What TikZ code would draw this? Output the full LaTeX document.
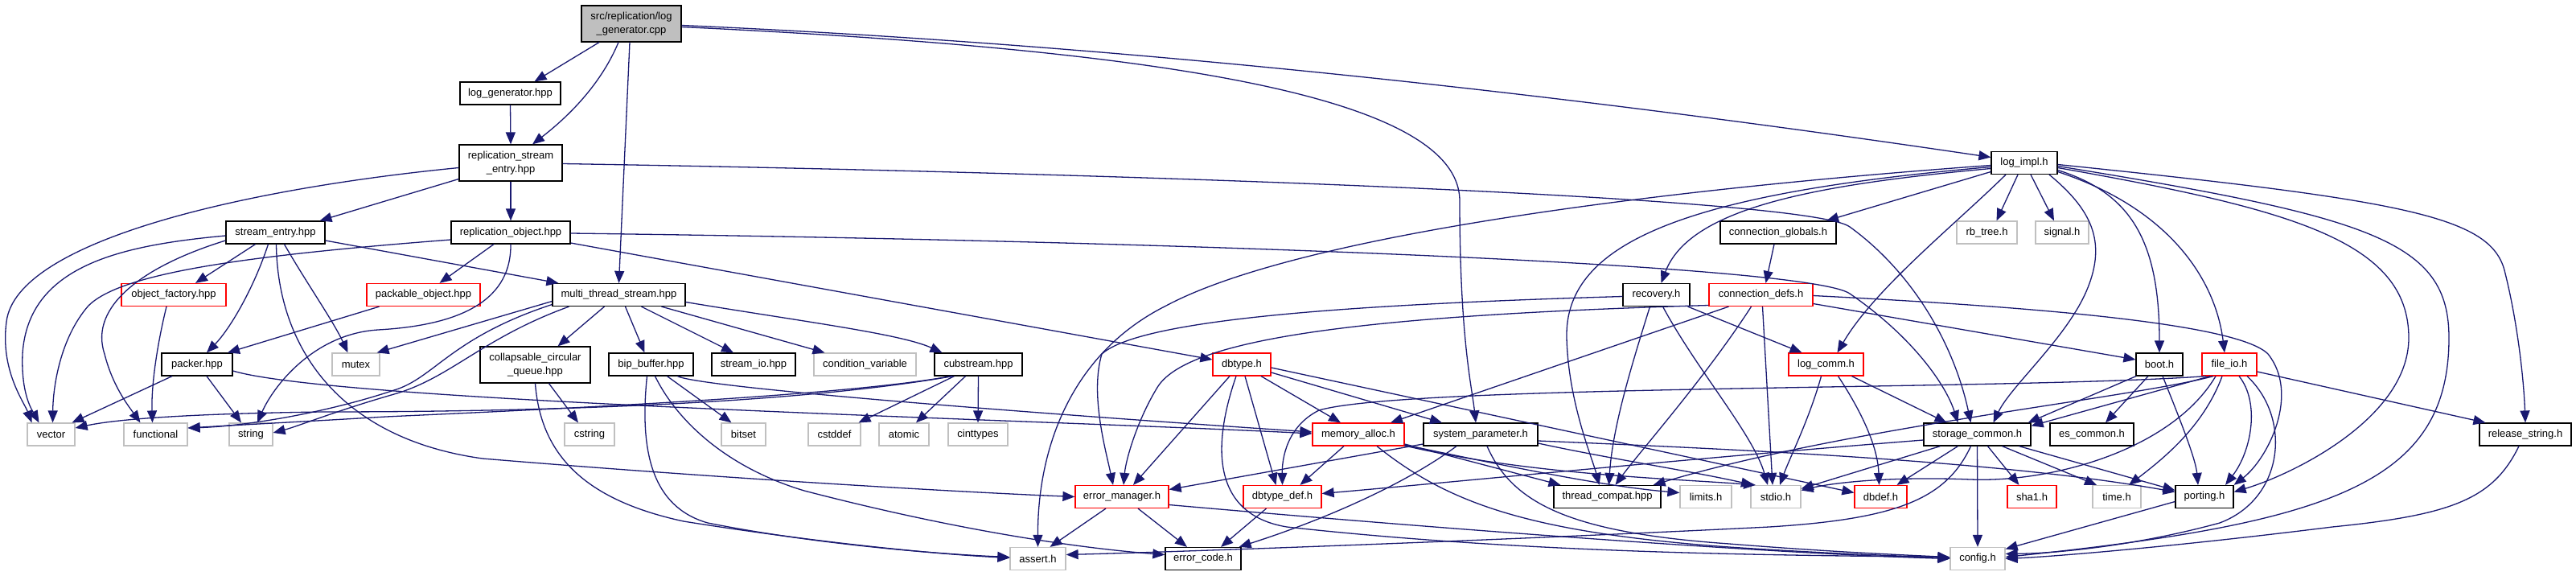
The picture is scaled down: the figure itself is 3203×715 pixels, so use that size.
\documentclass[tikz,border=0pt]{standalone}
\usepackage{fontspec}
\newfontfamily\dgfont{Liberation Sans}
\usetikzlibrary{arrows.meta}
\definecolor{depblue}{HTML}{191970}
\definecolor{sysgray}{HTML}{C0C0C0}
\definecolor{rootgray}{HTML}{BFBFBF}
\tikzset{
  hdr/.style={draw=black, line width=1.2pt, fill=white, minimum height=28pt, inner sep=0pt,
    font={\dgfont\fontsize{13}{17}\selectfont}},
  sys/.style={hdr, draw=sysgray},
  redhdr/.style={hdr, draw=red},
  two/.style={align=center, minimum height=45pt},
  root/.style={hdr, two, fill=rootgray},
  dep/.style={draw=depblue, line width=1.3pt, -{Triangle[length=15pt,width=12pt]}}
}
\begin{document}
\begin{tikzpicture}[x=1pt,y=-1pt]
\useasboundingbox (0,0) rectangle (3203,715);

% top rows
\node[root, minimum width=124pt] (cpp) at (785,29.5) {src/replication/log\\\_generator.cpp};
\node[hdr, minimum width=125pt] (lgh) at (634.5,116) {log\_generator.hpp};
\node[hdr, two, minimum width=128pt] (rse) at (635,202.5) {replication\_stream\\\_entry.hpp};
\node[hdr, minimum width=82pt] (logimpl) at (2517,202.5) {log\_impl.h};

\node[hdr, minimum width=123pt] (se) at (342.5,289) {stream\_entry.hpp};
\node[hdr, minimum width=148pt] (ro) at (635,289) {replication\_object.hpp};
\node[hdr, minimum width=144pt] (cglob) at (2211,289) {connection\_globals.h};
\node[sys, minimum width=75pt] (rbtree) at (2470.5,289) {rb\_tree.h};
\node[sys, minimum width=66pt] (signal) at (2564,289) {signal.h};

\node[redhdr, minimum width=130pt] (of) at (216,366.5) {object\_factory.hpp};
\node[redhdr, minimum width=141pt] (po) at (526.5,366.5) {packable\_object.hpp};
\node[hdr, minimum width=165pt] (mts) at (769.5,366.5) {multi\_thread\_stream.hpp};
\node[hdr, minimum width=83pt] (recovery) at (2059.5,366.5) {recovery.h};
\node[redhdr, minimum width=129pt] (cdefs) at (2189.5,366.5) {connection\_defs.h};

% middle row
\node[hdr, minimum width=88pt] (packer) at (245,453) {packer.hpp};
\node[sys, minimum width=59pt] (mutex) at (442.5,453) {mutex};
\node[hdr, two, minimum width=137pt] (ccq) at (665.5,453.5) {collapsable\_circular\\\_queue.hpp};
\node[hdr, minimum width=105pt] (bip) at (809.5,453) {bip\_buffer.hpp};
\node[hdr, minimum width=104pt] (sio) at (937,453) {stream\_io.hpp};
\node[sys, minimum width=127pt] (cv) at (1075.5,453) {condition\_variable};
\node[hdr, minimum width=109pt] (cub) at (1216.5,453) {cubstream.hpp};
\node[redhdr, minimum width=72pt] (dbtype) at (1544,453) {dbtype.h};
\node[redhdr, minimum width=93pt] (logcomm) at (2270.5,453) {log\_comm.h};
\node[hdr, minimum width=58pt] (boot) at (2685,453) {boot.h};
\node[redhdr, minimum width=68pt] (fileio) at (2772,453) {file\_io.h};

\node[sys, minimum width=59pt] (vector) at (63.5,540) {vector};
\node[sys, minimum width=79pt] (functional) at (193.5,540) {functional};
\node[sys, minimum width=54pt] (string) at (312,540) {string};
\node[sys, minimum width=62pt] (cstring) at (733,540) {cstring};
\node[sys, minimum width=55pt] (bitset) at (924.5,540) {bitset};
\node[sys, minimum width=65pt] (cstddef) at (1037.5,540) {cstddef};
\node[sys, minimum width=62pt] (atomic) at (1124,540) {atomic};
\node[sys, minimum width=74pt] (cinttypes) at (1216,540) {cinttypes};
\node[redhdr, minimum width=114pt] (malloc) at (1689,540) {memory\_alloc.h};
\node[hdr, minimum width=142pt] (sysparam) at (1841,540) {system\_parameter.h};
\node[hdr, minimum width=133pt] (stcommon) at (2458.5,540) {storage\_common.h};
\node[hdr, minimum width=104pt] (escommon) at (2601,540) {es\_common.h};
\node[hdr, minimum width=114pt] (relstr) at (3140,540) {release\_string.h};

% bottom rows
\node[redhdr, minimum width=116pt] (emgr) at (1395,617.5) {error\_manager.h};
\node[redhdr, minimum width=97pt] (dtd) at (1594.5,617.5) {dbtype\_def.h};
\node[hdr, minimum width=133pt] (tcompat) at (1998.5,617.5) {thread\_compat.hpp};
\node[sys, minimum width=64pt] (limits) at (2121,617.5) {limits.h};
\node[sys, minimum width=62pt] (stdio) at (2208,617.5) {stdio.h};
\node[redhdr, minimum width=65pt] (dbdef) at (2338.5,617.5) {dbdef.h};
\node[redhdr, minimum width=61pt] (sha1) at (2526.5,617.5) {sha1.h};
\node[sys, minimum width=60pt] (time) at (2632,617.5) {time.h};
\node[hdr, minimum width=72pt] (porting) at (2741,617.5) {porting.h};

\node[sys, minimum width=69pt] (assert) at (1290.5,694.5) {assert.h};
\node[hdr, minimum width=94pt] (ecode) at (1496,694.5) {error\_code.h};
\node[sys, minimum width=68pt] (config) at (2459,694.5) {config.h};

% root file
\draw[dep] ([xshift=-40pt]cpp.south) -- ([xshift=30pt]lgh.north);
\draw[dep] ([xshift=-16pt]cpp.south) .. controls (745,110) and (700,150) .. ([xshift=27pt]rse.north);
\draw[dep] ([xshift=-2pt]cpp.south) -- (mts.north);
\draw[dep] ([yshift=-2pt]cpp.east) .. controls (1500,60) and (2100,140) .. ([yshift=7pt]logimpl.west);
\draw[dep] ([yshift=-4pt]cpp.east) .. controls (1450,62) and (1815,120) .. (1815,250) .. controls (1815,420) and (1830,480) .. ([xshift=-6pt]sysparam.north);

% log_generator / replication_stream_entry
\draw[dep] (lgh.south) -- (rse.north);
\draw[dep] ([yshift=-20pt]rse.west) -- ([xshift=55pt]se.north);
\draw[dep] (rse.south) -- (ro.north);
\draw[dep] ([yshift=-6pt]rse.west) .. controls (300,235) and (20,300) .. (8,400) .. controls (0,460) and (30,500) .. ([xshift=-24pt]vector.north);
\draw[dep] ([yshift=-1pt]rse.east) .. controls (1400,215) and (2250,245) .. (2300,282) .. controls (2380,340) and (2430,430) .. ([xshift=-8pt]stcommon.north);

% stream_entry
\draw[dep] ([xshift=-25pt]se.south) -- ([xshift=27pt]of.north);
\draw[dep] ([xshift=-9pt]se.south) .. controls (315,360) and (285,410) .. ([xshift=12pt]packer.north);
\draw[dep] ([xshift=11pt]se.south) .. controls (380,350) and (415,400) .. ([xshift=-10pt]mutex.north);
\draw[dep] ([yshift=-4pt]se.west) .. controls (150,305) and (35,330) .. (28,440) .. controls (26,490) and (40,510) .. ([xshift=-15pt]vector.north);
\draw[dep] ([yshift=-10pt]se.west) .. controls (180,330) and (110,380) .. (130,440) .. controls (140,480) and (160,505) .. ([xshift=-19pt]functional.north);
\draw[dep] ([yshift=-10pt]se.east) -- ([xshift=8pt]mts.north west);
\draw[dep] ([xshift=1pt]se.south) .. controls (345,430) and (420,545) .. (600,570) .. controls (900,595) and (1200,612) .. (emgr.west);

% object_factory, replication_object, packable_object
\draw[dep] ([xshift=-9pt]of.south) .. controls (195,430) and (188,480) .. ([xshift=-4pt]functional.north);
\draw[dep] ([xshift=-21pt]ro.south) -- ([xshift=20pt]po.north);
\draw[dep] ([yshift=-9pt]ro.west) .. controls (300,318) and (150,340) .. (110,380) .. controls (75,420) and (66,480) .. ([xshift=2pt]vector.north);
\draw[dep] (ro.south) .. controls (636,380) and (560,405) .. (470,410) .. controls (390,415) and (340,480) .. ([xshift=8pt]string.north);
\draw[dep] ([yshift=-13pt]ro.east) -- ([yshift=6pt]dbtype.west);
\draw[dep] ([yshift=-1pt]ro.east) .. controls (1500,300) and (2250,330) .. (2300,365) .. controls (2380,420) and (2420,480) .. ([xshift=-24pt]stcommon.north);
\draw[dep] ([xshift=-55pt]po.south) -- ([xshift=38pt]packer.north);

% packer
\draw[dep] ([xshift=-31pt]packer.south) -- ([xshift=26pt]vector.north);
\draw[dep] ([xshift=12pt]packer.south) -- ([xshift=-12pt]string.north);
\draw[dep] ([yshift=-8pt]packer.east) .. controls (420,500) and (1300,522) .. ([yshift=1pt]malloc.west);

% multi_thread_stream
\draw[dep] ([xshift=-18pt]mts.south) -- ([xshift=28pt]ccq.north);
\draw[dep] ([xshift=8pt]mts.south) -- ([xshift=-8pt]bip.north);
\draw[dep] ([xshift=28pt]mts.south) -- ([xshift=-25pt]sio.north);
\draw[dep] ([xshift=53pt]mts.south) -- ([xshift=-50pt]cv.north);
\draw[dep] ([yshift=-9pt]mts.east) .. controls (1000,400) and (1120,415) .. ([xshift=-45pt]cub.north);
\draw[dep] ([yshift=-8pt]mts.west) -- ([xshift=-4pt]mutex.north east);
\draw[dep] ([yshift=-12pt]mts.west) .. controls (560,420) and (540,470) .. (490,485) .. controls (400,515) and (300,530) .. ([yshift=8pt]functional.east);
\draw[dep] ([xshift=-62pt]mts.south) .. controls (600,420) and (560,470) .. (490,490) .. controls (420,510) and (370,530) .. ([yshift=2pt]string.east);

% collapsable_circular_queue, bip_buffer
\draw[dep] ([xshift=17pt]ccq.south) -- ([xshift=-14pt]cstring.north);
\draw[dep] (ccq.south) .. controls (672,560) and (720,620) .. (850,648) .. controls (1000,672) and (1150,688) .. ([yshift=1pt]assert.west);
\draw[dep] ([xshift=20pt]bip.south) -- ([xshift=-15pt]bitset.north);
\draw[dep] ([xshift=33pt]bip.south) .. controls (870,482) and (1300,515) .. ([yshift=3pt]malloc.west);
\draw[dep] ([xshift=-5pt]bip.south) .. controls (795,560) and (810,630) .. (880,650) .. controls (1000,674) and (1150,688) .. ([yshift=2pt]assert.west);
\draw[dep] ([xshift=5pt]bip.south) .. controls (840,520) and (900,580) .. (1000,610) .. controls (1200,662) and (1350,682) .. ([yshift=5pt]ecode.west);

% cubstream
\draw[dep] ([xshift=-30pt]cub.south) -- ([xshift=30pt]cstddef.north);
\draw[dep] ([xshift=-16pt]cub.south) -- ([xshift=15pt]atomic.north);
\draw[dep] (cub.south) -- (cinttypes.north);
\draw[dep] ([xshift=-32pt]cub.south) .. controls (1000,500) and (700,512) .. (400,512) .. controls (250,514) and (150,520) .. ([yshift=8pt]vector.east);
\draw[dep] ([xshift=-34pt]cub.south) .. controls (1050,492) and (700,508) .. (480,518) .. controls (380,524) and (300,528) .. ([yshift=8pt]functional.east);

% dbtype
\draw[dep] ([xshift=-15pt]dbtype.south) -- ([xshift=14pt]emgr.north);
\draw[dep] ([xshift=4pt]dbtype.south) -- ([xshift=-8pt]dtd.north);
\draw[dep] ([xshift=24pt]dbtype.south) -- ([xshift=-22pt]malloc.north);
\draw[dep] ([yshift=-10pt]dbtype.east) -- ([xshift=-48pt]sysparam.north);
\draw[dep] ([yshift=-4pt]dbtype.east) -- ([yshift=5pt]dbdef.west);
\draw[dep] ([xshift=-7pt]dbtype.south) .. controls (1505,560) and (1510,640) .. (1600,655) .. controls (1900,688) and (2200,690) .. ([yshift=2pt]config.west);

% error_manager, dbtype_def
\draw[dep] ([xshift=-20pt]emgr.south) -- ([xshift=15pt]assert.north);
\draw[dep] ([xshift=20pt]emgr.south) -- ([xshift=-20pt]ecode.north);
\draw[dep] ([yshift=-10pt]emgr.east) .. controls (1800,658) and (2200,688) .. (config.west);
\draw[dep] ([xshift=-20pt]dtd.south) -- ([xshift=22pt]ecode.north);

% memory_alloc
\draw[dep] ([xshift=-18pt]malloc.south) -- ([xshift=22pt]dtd.north);
\draw[dep] ([yshift=-12pt]malloc.east) -- ([xshift=-58pt]tcompat.north);
\draw[dep] ([yshift=-13pt]malloc.east) .. controls (1900,585) and (2000,605) .. ([yshift=5pt]limits.west);
\draw[dep] ([yshift=-14pt]malloc.east) .. controls (1900,590) and (2080,595) .. ([xshift=-25pt]stdio.north);
\draw[dep] ([xshift=23pt]malloc.south) .. controls (1800,625) and (1900,662) .. (2150,680) .. controls (2300,690) and (2400,692) .. (config.west);

% system_parameter
\draw[dep] ([yshift=-12pt]sysparam.west) -- ([yshift=9pt]emgr.east);
\draw[dep] ([xshift=-30pt]sysparam.south) .. controls (1750,600) and (1650,645) .. ([xshift=-3pt]ecode.north east);
\draw[dep] ([xshift=8pt]sysparam.south) .. controls (1880,625) and (1950,662) .. (2150,676) .. controls (2300,688) and (2400,691) .. ([yshift=1pt]config.west);
\draw[dep] ([yshift=-8pt]sysparam.east) .. controls (2200,560) and (2500,575) .. ([yshift=6pt]porting.west);
\draw[dep] ([yshift=-11pt]sysparam.east) .. controls (2000,570) and (2100,585) .. ([xshift=-28pt]stdio.north);

% recovery, connection_defs, connection_globals
\draw[dep] ([yshift=-2pt]recovery.west) .. controls (1700,378) and (1420,395) .. (1370,440) .. controls (1355,490) and (1375,560) .. ([xshift=-11pt]emgr.north);
\draw[dep] ([xshift=-8pt]recovery.south) .. controls (2030,450) and (2005,530) .. ([xshift=2pt]tcompat.north);
\draw[dep] ([xshift=8pt]recovery.south) .. controls (2110,460) and (2180,540) .. ([xshift=-10pt]stdio.north);
\draw[dep] ([xshift=-3pt]recovery.south east) -- ([xshift=-30pt]logcomm.north);
\draw[dep] ([yshift=-13pt]cdefs.west) .. controls (1700,392) and (1480,420) .. (1440,480) .. controls (1415,520) and (1400,570) .. ([xshift=2pt]emgr.north);
\draw[dep] ([xshift=-40pt]cdefs.south) -- ([xshift=40pt]malloc.north);
\draw[dep] ([xshift=-12pt]cdefs.south) .. controls (2120,470) and (2040,560) .. ([xshift=10pt]tcompat.north);
\draw[dep] ([xshift=2pt]cdefs.south) -- ([xshift=-4pt]stdio.north);
\draw[dep] ([yshift=-11pt]cdefs.east) -- ([yshift=6pt]boot.west);
\draw[dep] ([yshift=-1pt]cdefs.east) .. controls (2500,380) and (2780,400) .. (2820,440) .. controls (2860,490) and (2820,570) .. (porting.north east);
\draw[dep] ([xshift=-5pt]cglob.south) -- ([xshift=6pt]cdefs.north);

% log_comm
\draw[dep] ([xshift=-6pt]logcomm.south) .. controls (2250,520) and (2225,570) .. ([xshift=5pt]stdio.north);
\draw[dep] ([xshift=15pt]logcomm.south) .. controls (2320,520) and (2335,560) .. ([xshift=-2pt]dbdef.north);
\draw[dep] ([xshift=32pt]logcomm.south) -- ([xshift=-38pt]stcommon.north);

% log_impl
\draw[dep] ([yshift=-3pt]logimpl.west) .. controls (2000,240) and (1600,300) .. (1450,380) .. controls (1330,440) and (1290,560) .. (assert.north);
\draw[dep] ([yshift=-5pt]logimpl.west) .. controls (2100,240) and (1945,300) .. (1948,420) .. controls (1950,500) and (1980,570) .. ([xshift=-10pt]tcompat.north);
\draw[dep] ([yshift=-7pt]logimpl.west) .. controls (2250,230) and (2100,260) .. ([xshift=6pt]recovery.north);
\draw[dep] ([yshift=-11pt]logimpl.west) -- ([xshift=60pt]cglob.north);
\draw[dep] ([xshift=-23pt]logimpl.south) .. controls (2430,280) and (2330,360) .. ([xshift=14pt]logcomm.north);
\draw[dep] ([xshift=-8pt]logimpl.south) -- ([xshift=12pt]rbtree.north);
\draw[dep] ([xshift=8pt]logimpl.south) -- ([xshift=-10pt]signal.north);
\draw[dep] ([xshift=31pt]logimpl.south) .. controls (2600,260) and (2620,300) .. (2595,360) .. controls (2570,420) and (2500,480) .. ([xshift=20pt]stcommon.north);
\draw[dep] ([yshift=-9pt]logimpl.east) .. controls (2650,240) and (2685,300) .. (boot.north);
\draw[dep] ([yshift=-11pt]logimpl.east) .. controls (2700,260) and (2755,350) .. ([xshift=-6pt]fileio.north);
\draw[dep] ([yshift=-6pt]logimpl.east) .. controls (2850,260) and (2995,300) .. (2995,420) .. controls (2995,520) and (2850,590) .. ([yshift=6pt]porting.east);
\draw[dep] ([yshift=-4pt]logimpl.east) .. controls (2950,270) and (3045,300) .. (3045,420) .. controls (3045,600) and (2900,650) .. ([yshift=2pt]config.east);
\draw[dep] ([yshift=-2pt]logimpl.east) .. controls (3000,250) and (3100,270) .. (3115,340) .. controls (3130,400) and (3138,470) .. (relstr.north);

% boot, file_io
\draw[dep] ([xshift=-29pt]boot.south) -- ([xshift=-4pt]stcommon.north east);
\draw[dep] ([xshift=-14pt]boot.south) -- ([xshift=17pt]escommon.north);
\draw[dep] ([xshift=4pt]boot.south) .. controls (2710,520) and (2730,570) .. ([xshift=-8pt]porting.north);
\draw[dep] ([xshift=-24pt]fileio.south) -- ([yshift=-4pt]stcommon.north east);
\draw[dep] ([xshift=-29pt]fileio.south) .. controls (2500,485) and (1750,478) .. (1640,510) .. controls (1600,530) and (1594,570) .. (dtd.north);
\draw[dep] ([xshift=-20pt]fileio.south) .. controls (2650,495) and (2300,530) .. ([xshift=-10pt]tcompat.north east);
\draw[dep] ([xshift=-17pt]fileio.south) .. controls (2700,560) and (2550,600) .. (2450,596) .. controls (2350,592) and (2280,600) .. ([yshift=8pt]stdio.east);
\draw[dep] ([xshift=-9pt]fileio.south) .. controls (2740,530) and (2690,570) .. ([xshift=15pt]time.north);
\draw[dep] ([xshift=12pt]fileio.south) .. controls (2810,500) and (2800,560) .. ([xshift=26pt]porting.north);
\draw[dep] ([xshift=22pt]fileio.south) .. controls (2850,520) and (2840,620) .. (2760,650) .. controls (2650,680) and (2550,688) .. ([yshift=6pt]config.east);
\draw[dep] ([yshift=-9pt]fileio.east) -- ([xshift=8pt]relstr.north west);

% storage_common
\draw[dep] (stcommon.south) -- (config.north);
\draw[dep] ([xshift=13pt]stcommon.south) -- ([xshift=-16pt]sha1.north);
\draw[dep] ([xshift=31pt]stcommon.south) -- ([xshift=-25pt]time.north);
\draw[dep] ([xshift=52pt]stcommon.south) -- ([yshift=8pt]porting.west);
\draw[dep] ([xshift=-8pt]stcommon.south) .. controls (2420,620) and (2360,645) .. (2200,655) .. controls (1900,670) and (1500,685) .. ([yshift=5pt]assert.east);
\draw[dep] ([xshift=-24pt]stcommon.south) -- ([xshift=20pt]dbdef.north);
\draw[dep] ([xshift=-46pt]stcommon.south) -- ([yshift=10pt]stdio.east);
\draw[dep] ([yshift=-7pt]stcommon.west) .. controls (2100,570) and (1800,600) .. ([yshift=4pt]dtd.east);

% release_string, porting
\draw[dep] ([xshift=-8pt]relstr.south) .. controls (3100,620) and (3050,640) .. (2900,655) .. controls (2700,680) and (2550,692) .. (config.east);
\draw[dep] ([yshift=-6pt]porting.west) -- ([yshift=12pt]config.east);
\end{tikzpicture}
\end{document}
